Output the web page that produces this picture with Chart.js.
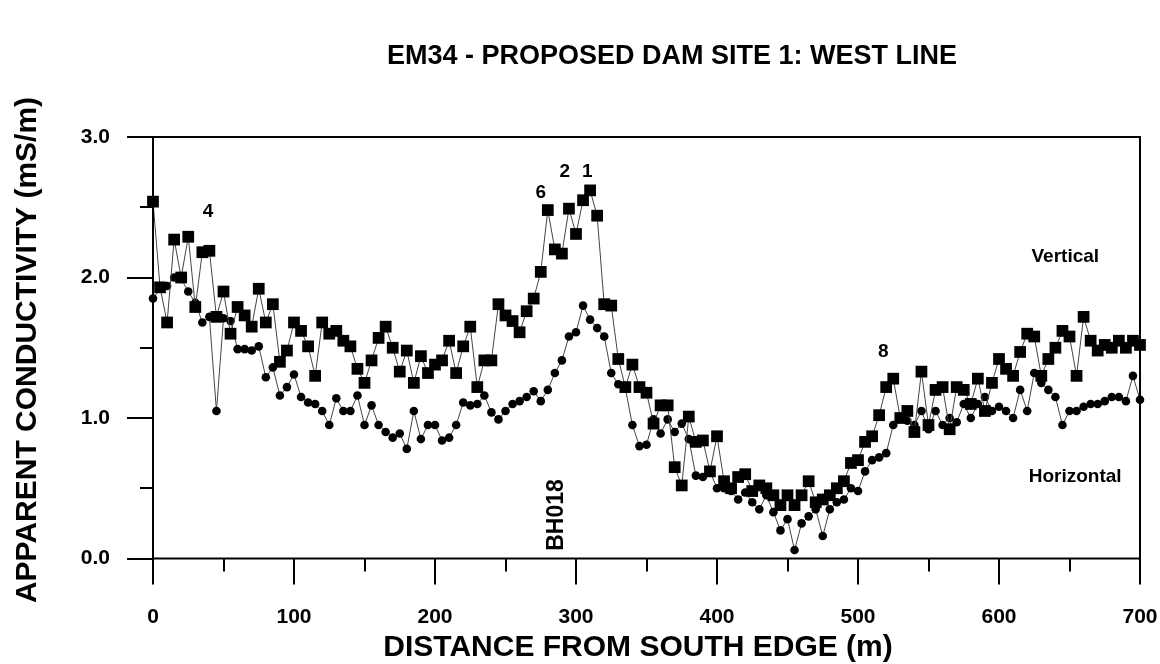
<!DOCTYPE html>
<html>
<head>
<meta charset="utf-8">
<title>EM34 - Proposed Dam Site 1: West Line</title>
<script src="https://cdn.jsdelivr.net/npm/chart.js@4.4.1/dist/chart.umd.min.js"></script>
<style>
  html, body { margin: 0; padding: 0; background: #fff; }
  #chart { display: block; }
</style>
</head>
<body>
<canvas id="chart" width="1160" height="664"></canvas>
<script>
// distance along the line (m), one reading every 5 m
const distances = [];
for (let d = 0; d <= 700; d += 5) distances.push(d);

// apparent conductivity, vertical dipole (squares)
const vertical = [
  2.54, 1.93, 1.68, 2.27, 2.00, 2.29, 1.79, 2.18, 2.19, 1.72,
  1.90, 1.60, 1.79, 1.73, 1.65, 1.92, 1.68, 1.81, 1.40, 1.48,
  1.68, 1.62, 1.51, 1.30, 1.68, 1.60, 1.62, 1.55, 1.51, 1.35,
  1.25, 1.41, 1.57, 1.65, 1.50, 1.33, 1.48, 1.25, 1.44, 1.32,
  1.38, 1.41, 1.55, 1.32, 1.51, 1.65, 1.22, 1.41, 1.41, 1.81,
  1.73, 1.69, 1.61, 1.76, 1.85, 2.04, 2.48, 2.20, 2.17, 2.49,
  2.31, 2.55, 2.62, 2.44, 1.81, 1.80, 1.42, 1.22, 1.38, 1.22,
  1.18, 0.96, 1.09, 1.09, 0.65, 0.52, 1.01, 0.83, 0.84, 0.62,
  0.87, 0.55, 0.50, 0.58, 0.60, 0.48, 0.52, 0.50, 0.45, 0.38,
  0.45, 0.38, 0.45, 0.55, 0.40, 0.42, 0.45, 0.50, 0.55, 0.68,
  0.70, 0.83, 0.87, 1.02, 1.22, 1.28, 1.00, 1.05, 0.90, 1.33,
  0.95, 1.20, 1.22, 0.92, 1.22, 1.20, 1.10, 1.28, 1.05, 1.25,
  1.42, 1.35, 1.30, 1.47, 1.60, 1.58, 1.30, 1.42, 1.50, 1.62,
  1.58, 1.30, 1.72, 1.55, 1.48, 1.52, 1.50, 1.55, 1.50, 1.55,
  1.52
];

// apparent conductivity, horizontal dipole (dots)
const horizontal = [
  1.85, 1.92, 1.94, 2.00, 1.99, 1.90, 1.82, 1.68, 1.72, 1.05,
  1.71, 1.69, 1.49, 1.49, 1.48, 1.51, 1.29, 1.36, 1.16, 1.22,
  1.31, 1.15, 1.11, 1.10, 1.05, 0.95, 1.14, 1.05, 1.05, 1.16,
  0.95, 1.09, 0.95, 0.90, 0.86, 0.89, 0.78, 1.05, 0.85, 0.95,
  0.95, 0.84, 0.86, 0.95, 1.11, 1.09, 1.10, 1.16, 1.04, 0.99,
  1.05, 1.10, 1.12, 1.15, 1.19, 1.12, 1.20, 1.32, 1.41, 1.58,
  1.61, 1.80, 1.70, 1.64, 1.58, 1.32, 1.24, 1.21, 0.95, 0.80,
  0.81, 0.99, 0.89, 0.99, 0.90, 0.96, 0.85, 0.59, 0.58, 0.62,
  0.50, 0.50, 0.48, 0.42, 0.47, 0.40, 0.35, 0.45, 0.33, 0.20,
  0.28, 0.06, 0.25, 0.30, 0.35, 0.16, 0.35, 0.40, 0.42, 0.50,
  0.48, 0.62, 0.70, 0.72, 0.75, 0.95, 1.00, 0.98, 0.95, 1.05,
  0.92, 1.05, 0.95, 1.00, 0.97, 1.10, 1.00, 1.10, 1.15, 1.05,
  1.08, 1.05, 1.00, 1.20, 1.05, 1.32, 1.25, 1.20, 1.15, 0.95,
  1.05, 1.05, 1.08, 1.10, 1.10, 1.12, 1.15, 1.15, 1.12, 1.30,
  1.13
];

const xTickLabels = [0, 100, 200, 300, 400, 500, 600, 700];
const yTickLabels = [0.0, 1.0, 2.0, 3.0];

// text notes placed in data units
const notes = [
  { text: "4", x: 39, y: 2.47, size: 19 },
  { text: "6", x: 275, y: 2.60, size: 19 },
  { text: "2", x: 292, y: 2.75, size: 19 },
  { text: "1", x: 308, y: 2.75, size: 19 },
  { text: "8", x: 518, y: 1.47, size: 19 },
  { text: "Vertical", x: 647, y: 2.15, size: 19 },
  { text: "Horizontal", x: 654, y: 0.58, size: 19 }
];

const FONT = "'Liberation Sans', Arial, sans-serif";

const frameAndText = {
  id: "frameAndText",
  afterDraw(chart) {
    const { ctx, chartArea: a, scales: { x, y } } = chart;
    ctx.save();
    ctx.strokeStyle = "#000";
    ctx.lineWidth = 2;
    ctx.strokeRect(a.left, a.top, a.right - a.left, a.bottom - a.top);

    // tick marks, outside the frame
    ctx.beginPath();
    for (let v = 0; v <= 700; v += 50) {
      const px = Math.round(x.getPixelForValue(v));
      const len = xTickLabels.includes(v) ? 26 : 13;
      ctx.moveTo(px, a.bottom);
      ctx.lineTo(px, a.bottom + len);
    }
    for (let v = 0; v <= 3; v += 0.5) {
      const py = Math.round(y.getPixelForValue(v));
      const len = v % 1 === 0 ? 26 : 13;
      ctx.moveTo(a.left, py);
      ctx.lineTo(a.left - len, py);
    }
    ctx.stroke();

    ctx.fillStyle = "#000";
    ctx.textAlign = "center";
    ctx.textBaseline = "middle";

    ctx.font = "bold 27px " + FONT;
    ctx.fillText("EM34 - PROPOSED DAM SITE 1: WEST LINE", 672, 57);

    ctx.font = "bold 30px " + FONT;
    ctx.fillText("DISTANCE FROM SOUTH EDGE (m)", 638, 648);

    ctx.save();
    ctx.translate(28, 350);
    ctx.rotate(-Math.PI / 2);
    ctx.fillText("APPARENT CONDUCTIVITY (mS/m)", 0, 0);
    ctx.restore();

    notes.forEach(n => {
      ctx.font = "bold " + n.size + "px " + FONT;
      ctx.fillText(n.text, x.getPixelForValue(n.x), y.getPixelForValue(n.y));
    });

    // borehole marker
    ctx.save();
    ctx.translate(x.getPixelForValue(286.5), y.getPixelForValue(0.31));
    ctx.rotate(-Math.PI / 2);
    ctx.font = "bold 23px " + FONT;
    ctx.fillText("BH018", 0, 0);
    ctx.restore();

    ctx.restore();
  }
};

const toPoints = values => distances.map((d, i) => ({ x: d, y: values[i] }));

new Chart(document.getElementById("chart"), {
  type: "line",
  data: {
    datasets: [
      {
        label: "Vertical",
        data: toPoints(vertical),
        clip: false,
        borderColor: "#444",
        borderWidth: 1,
        pointStyle: "rect",
        pointRadius: 8.3,
        pointBorderWidth: 0,
        pointBackgroundColor: "#000",
        pointBorderColor: "#000"
      },
      {
        label: "Horizontal",
        data: toPoints(horizontal),
        clip: false,
        borderColor: "#444",
        borderWidth: 1,
        pointStyle: "circle",
        pointRadius: 4.3,
        pointBorderWidth: 0,
        pointBackgroundColor: "#000",
        pointBorderColor: "#000"
      }
    ]
  },
  options: {
    responsive: false,
    animation: false,
    devicePixelRatio: 1,
    layout: { padding: { top: 137, right: 20, left: 0, bottom: 0 } },
    scales: {
      x: {
        type: "linear",
        min: 0,
        max: 700,
        afterFit: s => { s.height = 105.5; s.paddingLeft = 0; s.paddingRight = 0; },
        grid: { display: true, drawOnChartArea: false, drawTicks: false },
        border: { display: false },
        ticks: {
          stepSize: 50,
          padding: 46,
          color: "#000",
          maxRotation: 0,
          autoSkip: false,
          font: { family: FONT, size: 21, weight: "bold" },
          callback: v => (xTickLabels.includes(v) ? String(v) : "")
        }
      },
      y: {
        min: 0,
        max: 3,
        afterFit: s => { s.width = 153; s.paddingTop = 0; s.paddingBottom = 0; },
        grid: { display: true, drawOnChartArea: false, drawTicks: false },
        border: { display: false },
        ticks: {
          stepSize: 0.5,
          padding: 43,
          color: "#000",
          autoSkip: false,
          font: { family: FONT, size: 21, weight: "bold" },
          callback: v => (yTickLabels.includes(v) ? v.toFixed(1) : "")
        }
      }
    },
    plugins: {
      legend: { display: false },
      tooltip: { enabled: false }
    }
  },
  plugins: [frameAndText]
});
</script>
</body>
</html>
